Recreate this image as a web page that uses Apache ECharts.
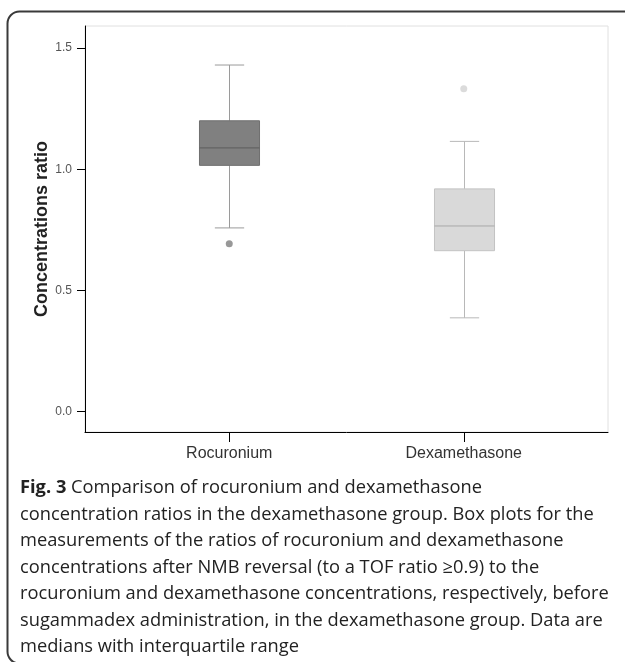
<!DOCTYPE html>
<html>
<head>
<meta charset="utf-8">
<script src="https://cdn.jsdelivr.net/npm/echarts@6/dist/echarts.min.js"></script>
<style>
  html, body { margin: 0; padding: 0; background: #fff; }
  #chart { width: 625px; height: 662px; }
</style>
</head>
<body>
<div id="chart"></div>
<script>
// data
const categories = ['Rocuronium', 'Dexamethasone'];
const lowWhisker = [0.758, 0.387];
const q1 = [1.016, 0.664];
const median = [1.088, 0.766];
const q3 = [1.200, 0.919];
const highWhisker = [1.430, 1.115];
const outliers = [[0, 0.693], [1, 1.332]];
const yTicks = [0, 0.5, 1.0, 1.5];

// styling per box
const boxStyles = [
  { fill: '#808080', border: '#6f6f6f', median: '#5c5c5c', whisker: '#9a9a9a', dot: '#7e7e7e' },
  { fill: '#d9d9d9', border: '#c3c3c3', median: '#a9a9a9', whisker: '#b8b8b8', dot: '#d2d2d2' }
];

const yMin = -0.084, yMax = 1.591;

const caption = '{b|Fig. 3} Comparison of rocuronium and dexamethasone\n' +
  'concentration ratios in the dexamethasone group. Box plots for the\n' +
  'measurements of the ratios of rocuronium and dexamethasone\n' +
  'concentrations after NMB reversal (to a TOF ratio \u22650.9) to the\n' +
  'rocuronium and dexamethasone concentrations, respectively, before\n' +
  'sugammadex administration, in the dexamethasone group. Data are\n' +
  'medians with interquartile range';

function renderBox(params, api) {
  const i = api.value(0);
  const lo = api.coord([i, api.value(1)]);
  const b1 = api.coord([i, api.value(2)]);
  const md = api.coord([i, api.value(3)]);
  const b3 = api.coord([i, api.value(4)]);
  const hi = api.coord([i, api.value(5)]);
  const band = api.size([1, 0])[0];
  const bw = band * 0.256;
  const cw = band * 0.0625;
  const st = boxStyles[i];
  const x = Math.round(lo[0]) + 0.5;
  const wl = { stroke: st.whisker, lineWidth: 1 };
  return {
    type: 'group',
    children: [
      { type: 'line', shape: { x1: x, y1: hi[1], x2: x, y2: b3[1] }, style: wl },
      { type: 'line', shape: { x1: x, y1: b1[1], x2: x, y2: lo[1] }, style: wl },
      { type: 'line', shape: { x1: x - cw, y1: hi[1], x2: x + cw, y2: hi[1] }, style: wl },
      { type: 'line', shape: { x1: x - cw, y1: lo[1], x2: x + cw, y2: lo[1] }, style: wl },
      { type: 'rect', shape: { x: x - bw / 2, y: b3[1], width: bw, height: b1[1] - b3[1] },
        style: { fill: st.fill, stroke: st.border, lineWidth: 1 } },
      { type: 'line', shape: { x1: x - bw / 2, y1: md[1], x2: x + bw / 2, y2: md[1] },
        style: { stroke: st.median, lineWidth: 1 } }
    ]
  };
}

const chart = echarts.init(document.getElementById('chart'));
chart.setOption({
  animation: false,
  backgroundColor: '#fff',
  title: {
    text: caption,
    left: 20,
    top: 475,
    padding: 0,
    textStyle: {
      fontFamily: 'Open Sans',
      fontSize: 18.3,
      fontWeight: 'normal',
      color: '#222',
      lineHeight: 26.5,
      rich: {
        b: { fontFamily: 'Open Sans', fontSize: 18.3, fontWeight: 'bold', color: '#222', lineHeight: 26.5 }
      }
    }
  },
  graphic: [
    {
      type: 'rect',
      z: -1,
      shape: { x: 7.5, y: 11.5, width: 700, height: 652, r: 12 },
      style: { fill: 'none', stroke: '#3a3a3a', lineWidth: 2 }
    }
  ],
  grid: [
    { left: 85, top: 26, width: 523, height: 406, show: true, borderColor: '#e0e0e0', borderWidth: 1 },
    { left: 112, top: 26, width: 469, height: 406 }
  ],
  xAxis: [
    {
      gridIndex: 0, type: 'value', min: 0, max: 1,
      axisLine: { show: true, onZero: false, lineStyle: { color: '#000', width: 1 } },
      axisTick: { show: false }, axisLabel: { show: false }, splitLine: { show: false }
    },
    {
      gridIndex: 1, type: 'category', data: categories,
      axisLine: { show: false, onZero: false },
      axisTick: { show: true, alignWithLabel: true, length: 10, lineStyle: { color: '#000' } },
      axisLabel: { margin: 14, fontFamily: 'Liberation Sans', fontSize: 16, color: '#333' },
      splitLine: { show: false }
    }
  ],
  yAxis: [
    {
      gridIndex: 0, type: 'value', min: yMin, max: yMax,
      name: 'Concentrations ratio',
      nameLocation: 'middle',
      nameGap: 34,
      nameMoveOverlap: false,
      nameTextStyle: { fontFamily: 'Liberation Sans', fontSize: 18, fontWeight: 'bold', color: '#222' },
      axisLine: { show: true, onZero: false, lineStyle: { color: '#000', width: 1 } },
      axisTick: { show: true, length: 8, customValues: yTicks, lineStyle: { color: '#000' } },
      axisLabel: {
        customValues: yTicks, margin: 13,
        fontFamily: 'Liberation Sans', fontSize: 12, color: '#555',
        formatter: v => v.toFixed(1)
      },
      splitLine: { show: false }
    },
    { gridIndex: 1, type: 'value', min: yMin, max: yMax, show: false }
  ],
  series: [
    {
      type: 'custom',
      xAxisIndex: 1, yAxisIndex: 1,
      renderItem: renderBox,
      encode: { x: 0, y: [1, 2, 3, 4, 5] },
      data: categories.map((c, i) => [i, lowWhisker[i], q1[i], median[i], q3[i], highWhisker[i]])
    },
    {
      type: 'scatter',
      xAxisIndex: 1, yAxisIndex: 1,
      symbolSize: 7,
      data: outliers.map(p => ({ value: p, itemStyle: { color: boxStyles[p[0]].dot } }))
    }
  ]
});
</script>
</body>
</html>
